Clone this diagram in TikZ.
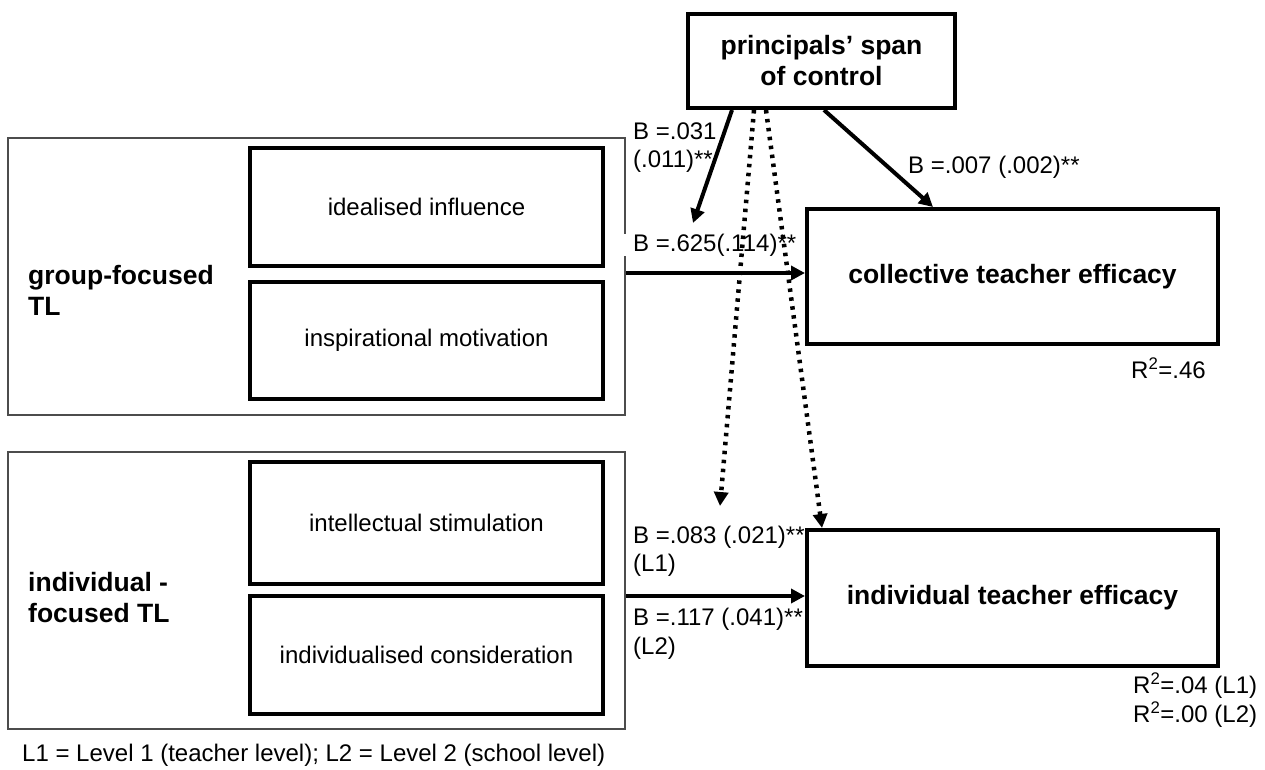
\documentclass[tikz,border=0pt]{standalone}
\usepackage{fontspec}
\setmainfont{Liberation Sans}
\usetikzlibrary{arrows.meta}
\begin{document}
\begin{tikzpicture}[x=1pt,y=-1pt,
  thickbox/.style={draw=black, line width=4pt, inner sep=0pt, align=center},
  outerbox/.style={draw=black!70, line width=2pt, inner sep=0pt},
  boldtxt/.style={font=\fontsize{26.5}{31}\selectfont\bfseries},
  innertxt/.style={font=\fontsize{24}{28}\selectfont},
  lab/.style={font=\fontsize{24}{28.5}\selectfont, inner sep=0pt, align=left, anchor=west},
  arr/.style={line width=4pt, -{Triangle[length=14pt,width=14pt]}},
  dotarr/.style={line width=4.5pt, dash pattern=on 3.5pt off 5.5pt, -{Triangle[length=14pt,width=14pt]}}
]
\useasboundingbox (0,0) rectangle (1265,769);

% boxes
\node[thickbox, boldtxt, minimum width=267pt, minimum height=94pt] (psc) at (821.5,61) {principals’ span\\of control};

\node[outerbox, minimum width=617pt, minimum height=277pt] (grp) at (316.5,276.5) {};
\node[thickbox, innertxt, minimum width=353pt, minimum height=118pt] (ii) at (426.5,207) {idealised influence};
\node[thickbox, innertxt, minimum width=353pt, minimum height=117pt] (im) at (426.5,340.5) {inspirational motivation};
\node[boldtxt, inner sep=0pt, align=left, anchor=west] (grplab) at (28,290) {group-focused\\TL};

\node[outerbox, minimum width=617pt, minimum height=277pt] (ino) at (316.5,590.5) {};
\node[thickbox, innertxt, minimum width=353pt, minimum height=122pt] (is) at (426.5,523) {intellectual stimulation};
\node[thickbox, innertxt, minimum width=353pt, minimum height=118pt] (ic) at (426.5,655) {individualised consideration};
\node[boldtxt, inner sep=0pt, align=left, anchor=west] (inlab) at (28,597.5) {individual -\\focused TL};

\node[thickbox, boldtxt, minimum width=411pt, minimum height=135pt] (cte) at (1012.5,276.5) {collective teacher efficacy};
\node[thickbox, boldtxt, minimum width=411pt, minimum height=136pt] (ite) at (1012.5,598) {individual teacher efficacy};

% labels
\node[lab] (l031) at (633,147.5) {B =.031\\(.011)**};
\node[lab, fill=white] (l625) at (624,245) {\hspace*{9pt}B =.625(.114)**};
\node[lab] (l007) at (908,167) {B =.007 (.002)**};
\node[lab] (l083) at (633,551.5) {B =.083 (.021)**\\(L1)};
\node[lab] (l117) at (633,634) {B =.117 (.041)**\\(L2)};
\node[lab] (r46) at (1131,368) {R\textsuperscript{2}=.46};
\node[lab] (r04) at (1133,700) {R\textsuperscript{2}=.04 (L1)\\R\textsuperscript{2}=.00 (L2)};
\node[lab] (foot) at (22,755) {L1 = Level 1 (teacher level); L2 = Level 2 (school level)};

% free ends
\coordinate (t1) at (693,223);
\coordinate (t2) at (720,506);

% connectors
\draw[arr] ([xshift=-89.5pt]psc.south) -- (t1);
\draw[arr] ([xshift=2.5pt]psc.south) -- ([xshift=-79.5pt]cte.north);
\draw[dotarr] ([xshift=-67.5pt]psc.south) -- (t2);
\draw[dotarr] ([xshift=-55.5pt]psc.south) -- ([xshift=-190.5pt]ite.north);
\draw[arr] ([yshift=3.5pt]grp.east) -- ([yshift=3.5pt]cte.west);
\draw[arr] ([yshift=-5.5pt]ino.east) -- ([yshift=2pt]ite.west);
\end{tikzpicture}
\end{document}
